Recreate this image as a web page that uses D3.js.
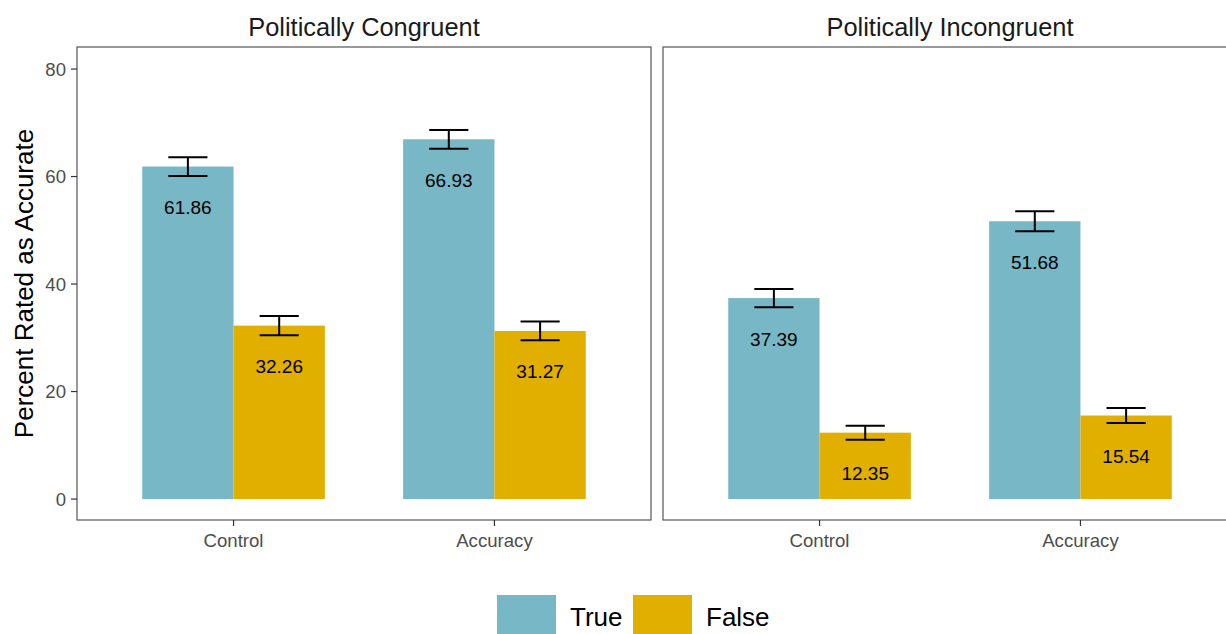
<!DOCTYPE html>
<html>
<head>
<meta charset="utf-8">
<script src="https://cdn.jsdelivr.net/npm/d3@7"></script>
<style>
  body { margin: 0; background: #fff; }
  text { font-family: "Liberation Sans", Arial, sans-serif; }
</style>
</head>
<body>
<svg id="chart" width="1226" height="634"></svg>
<script>
// data
var panels = ["Politically Congruent", "Politically Incongruent"];
var conditions = ["Control", "Accuracy"];
var veracity = ["True", "False"];
var colors = ["#78B7C5", "#E1AF00"];
// values[panel][condition] = [true, false]
var values = [
  [[61.86, 32.26], [66.93, 31.27]],
  [[37.39, 12.35], [51.68, 15.54]]
];
var errors = [
  [[1.75, 1.8], [1.75, 1.75]],
  [[1.7, 1.3], [1.85, 1.4]]
];
var yTicks = [0, 20, 40, 60, 80];

var svg = d3.select("#chart");
var plotTop = 47, plotBottom = 520, panelW = 574;
var panelX = [77, 663];

var y = d3.scaleLinear().domain([-3.9, 84.1]).range([plotBottom, plotTop]);

panels.forEach(function (name, p) {
  var g = svg.append("g").attr("transform", "translate(" + panelX[p] + ",0)");

  // discrete positions like ggplot: centers at 0.6 and 1.6 of 2.2 units
  var unit = panelW / 2.2;
  var cx = function (c) { return (conditions.indexOf(c) + 0.6) * unit; };
  var sub = d3.scaleBand().domain(veracity).range([-0.35 * unit, 0.35 * unit]);

  conditions.forEach(function (c, ci) {
    veracity.forEach(function (v, vi) {
      var val = values[p][ci][vi];
      var err = errors[p][ci][vi];
      var x0 = cx(c) + sub(v);
      var mid = x0 + sub.bandwidth() / 2;
      g.append("rect")
        .attr("x", x0).attr("width", sub.bandwidth())
        .attr("y", y(val)).attr("height", y(0) - y(val))
        .attr("fill", colors[vi]);
      var hw = 0.075 * unit;
      var eb = g.append("g").attr("stroke", "#000").attr("stroke-width", 2);
      eb.append("line").attr("x1", mid).attr("x2", mid).attr("y1", y(val + err)).attr("y2", y(val - err));
      eb.append("line").attr("x1", mid - hw).attr("x2", mid + hw).attr("y1", y(val + err)).attr("y2", y(val + err));
      eb.append("line").attr("x1", mid - hw).attr("x2", mid + hw).attr("y1", y(val - err)).attr("y2", y(val - err));
      g.append("text")
        .attr("x", mid).attr("y", y(val) + 41)
        .attr("text-anchor", "middle").attr("dominant-baseline", "central")
        .attr("font-size", 19).attr("fill", "#000")
        .text(val.toFixed(2));
    });
  });

  // panel border
  g.append("rect").attr("x", 0).attr("y", plotTop).attr("width", panelW).attr("height", plotBottom - plotTop)
    .attr("fill", "none").attr("stroke", "#555").attr("stroke-width", 1.2);

  // x axis ticks and labels
  conditions.forEach(function (c) {
    g.append("line").attr("x1", cx(c)).attr("x2", cx(c)).attr("y1", plotBottom).attr("y2", plotBottom + 6)
      .attr("stroke", "#333").attr("stroke-width", 1.2);
    g.append("text").attr("x", cx(c)).attr("y", plotBottom + 20)
      .attr("text-anchor", "middle").attr("dominant-baseline", "central")
      .attr("font-size", 18.6).attr("fill", "#4D4D4D").text(c);
  });

  // facet title
  g.append("text").attr("x", panelW / 2).attr("y", 27)
    .attr("text-anchor", "middle").attr("dominant-baseline", "central")
    .attr("font-size", 25.4).attr("fill", "#1A1A1A").text(name);
});

// y axis on first panel
var yg = svg.append("g");
yTicks.forEach(function (t) {
  yg.append("line").attr("x1", panelX[0] - 6).attr("x2", panelX[0]).attr("y1", y(t)).attr("y2", y(t))
    .attr("stroke", "#333").attr("stroke-width", 1.2);
  yg.append("text").attr("x", panelX[0] - 11).attr("y", y(t))
    .attr("text-anchor", "end").attr("dominant-baseline", "central")
    .attr("font-size", 18.6).attr("fill", "#4D4D4D").text(t);
});
svg.append("text").attr("transform", "translate(24," + (plotTop + plotBottom) / 2 + ") rotate(-90)")
  .attr("text-anchor", "middle").attr("dominant-baseline", "central")
  .attr("font-size", 26).attr("fill", "#000").text("Percent Rated as Accurate");

// legend
var leg = svg.append("g").attr("transform", "translate(497,595)");
var legX = [0, 136];
veracity.forEach(function (v, i) {
  leg.append("rect").attr("x", legX[i]).attr("y", 0).attr("width", 59).attr("height", 40).attr("fill", colors[i]);
  leg.append("text").attr("x", legX[i] + 73).attr("y", 22)
    .attr("dominant-baseline", "central").attr("font-size", 26).attr("fill", "#000").text(v);
});
</script>
</body>
</html>
